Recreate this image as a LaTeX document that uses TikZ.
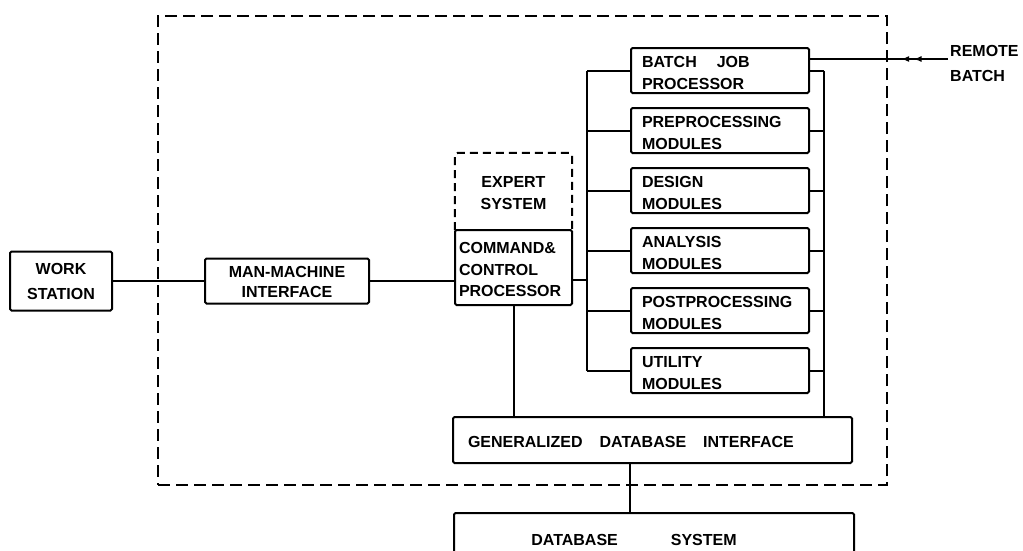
\documentclass[tikz,border=0pt]{standalone}
\usepackage{fontspec}
\setmainfont{Liberation Sans}
\usetikzlibrary{arrows.meta,decorations.markings}
% zero-width strut that lowers a multi-line label inside its box
\newcommand{\upstr}[1]{\rule{0pt}{#1}}

\begin{document}
\begin{tikzpicture}[x=1pt,y=-1pt,
  every node/.style={font=\fontsize{16}{21.5}\selectfont\bfseries, inner sep=0pt},
  box/.style={draw, line width=2pt, rounded corners=1.5pt},
  modbox/.style={box, minimum width=178pt, minimum height=45pt,
                 text width=156pt, align=left, inner xsep=11pt},
  wire/.style={line width=2pt},
  frame/.style={draw, line width=1.6pt, dash pattern=on 12pt off 6pt},
  softframe/.style={line width=2pt, dash pattern=on 8pt off 5pt, rounded corners=3pt},
  twoarrows/.style={postaction={decorate}, decoration={markings,
      mark=at position 0.25 with {\arrow{Latex[length=8pt,width=6pt]}},
      mark=at position 0.34 with {\arrow{Latex[length=8pt,width=6pt]}}}}
]
\useasboundingbox (0,0) rectangle (1023,550);
\clip (0,0) rectangle (1023,550);
\fill[white] (0,0) rectangle (1023,550);

% system boundary
\node[frame, minimum width=729pt, minimum height=469pt] (sys) at (522.5,250.5) {};

% work station and man-machine interface
\node[box, minimum width=102pt, minimum height=59pt, align=center,
      font=\fontsize{16}{25}\selectfont\bfseries] (ws) at (61,281) {WORK\\STATION};
\node[box, minimum width=164pt, minimum height=45pt, align=center,
      font=\fontsize{16}{20}\selectfont\bfseries] (mmi) at (287,281) {\upstr{14pt}MAN-MACHINE\\INTERFACE};

% command & control processor with the expert system above it
\node[box, minimum width=117pt, minimum height=75pt, text width=109pt,
      inner xsep=4pt, align=left] (ccp) at (513.5,267.5) {\upstr{16pt}COMMAND\&\\CONTROL\\PROCESSOR};
\node[minimum width=117pt, minimum height=77pt, align=center,
      font=\fontsize{16}{22}\selectfont\bfseries] (exp) at (513.5,191.5) {\upstr{15pt}EXPERT\\SYSTEM};
\draw[softframe] (exp.south west) -- (exp.north west) -- (exp.north east) -- (exp.south east);

% module column
\node[modbox] (batch) at (720,70.5)  {\upstr{16.5pt}BATCH\hspace{20pt}JOB\\PROCESSOR};
\node[modbox] (pre)   at (720,130.5) {\upstr{16.5pt}PREPROCESSING\\MODULES};
\node[modbox] (des)   at (720,190.5) {\upstr{16.5pt}DESIGN\\MODULES};
\node[modbox] (ana)   at (720,250.5) {\upstr{16.5pt}ANALYSIS\\MODULES};
\node[modbox] (post)  at (720,310.5) {\upstr{16.5pt}POSTPROCESSING\\MODULES};
\node[modbox] (util)  at (720,370.5) {\upstr{16.5pt}UTILITY\\MODULES};

% database interface and database
\node[box, minimum width=399pt, minimum height=46pt, text width=369pt,
      inner xsep=15pt, align=left] (gdi) at (652.5,440)
      {\upstr{16pt}GENERALIZED\hspace{17pt}DATABASE\hspace{17pt}INTERFACE};
\node[box, anchor=north west, minimum width=400pt, minimum height=60pt] (db) at (453,512) {};
\node (dbtext) at (634,540) {DATABASE\hspace{53pt}SYSTEM};

% remote batch entry
\node[anchor=north west, align=left, font=\fontsize{16}{25}\selectfont\bfseries] (rbtext) at (950,45.5) {REMOTE\\BATCH};
\coordinate (rb) at (948,59);

% bus positions
\coordinate (bl) at (587,70.5);
\coordinate (br) at (824,70.5);

% connectors
\draw[wire] (ws.east) -- (mmi.west);
\draw[wire] (mmi.east) -- (mmi.east -| ccp.west);
\draw[wire] ([yshift=-12.5pt]ccp.east) -- ([yshift=-12.5pt]ccp.east -| bl);
\draw[wire] (bl) -- (bl |- util.west);
\foreach \m in {batch,pre,des,ana,post,util}{
  \draw[wire] (\m.west) -- (\m.west -| bl);
  \draw[wire] (\m.east) -- (\m.east -| br);
}
\draw[wire] (br) -- (br |- gdi.north);
\draw[wire] (ccp.south) -- (ccp.south |- gdi.north);
\draw[wire] ([xshift=-22.5pt]gdi.south) -- ([xshift=-22.5pt]gdi.south |- db.north);
\draw[wire, twoarrows] (rb) -- (batch.east |- rb);
\end{tikzpicture}
\end{document}
